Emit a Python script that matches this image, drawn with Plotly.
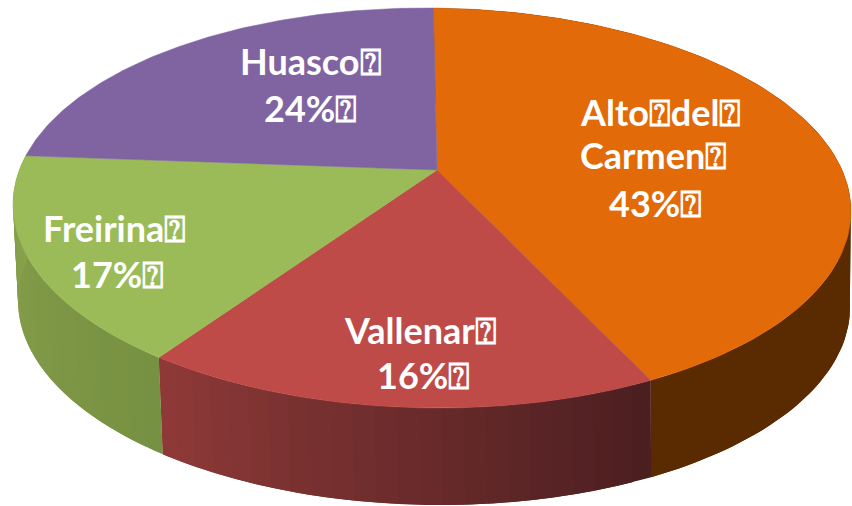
import numpy as np
import plotly.graph_objects as go

# ---- data
categories = ["Alto del Carmen", "Vallenar", "Freirina", "Huasco"]
values = [43, 16, 17, 24]
BOX = "\u2370"
label_text = ["Alto" + BOX + "del" + BOX, "Carmen" + BOX, "43%" + BOX,
              "Vallenar" + BOX, "16%" + BOX,
              "Freirina" + BOX, "17%" + BOX,
              "Huasco" + BOX, "24%" + BOX]

# ---- styling / geometry (pixel-based axes)
label_x = [578, 578, 607, 342, 375, 41, 69, 238, 262]
label_y = [112, 155, 203, 330, 375, 228, 274, 61, 108]
top_colors = ["#E26A08", "#BE4B48", "#9BBB59", "#8064A2"]
wall_from = ["#5A2A00", "#8F3A38", "#88A24D", "#5A4672"]
wall_to = ["#5A2A00", "#4A1E20", "#779142", "#5A4672"]
TOP = dict(cx=432.0, cy=208.0, a=419.0, b=200.0)
BOTTOM = dict(cx=434.0, cy=304.0, a=416.0, b=201.0)
TILT = 0.008
PERSP = 0.185
WARP = 0.030
ROT = 0.004
VERTEX = (437.0, 170.0)
W, H = 852, 506


def unit(theta):
    """Angle (clockwise from up) on the disc, moved by the perspective map."""
    th = theta + ROT + WARP * np.sin(2 * theta)
    x, y = np.sin(th), np.cos(th)
    d = 1 + PERSP * y
    return x * np.sqrt(1 - PERSP ** 2) / d, (y + PERSP) / d


def rim(theta, e):
    u, v = unit(theta)
    return e["cx"] + e["a"] * u, e["cy"] - e["b"] * v + TILT * e["a"] * u


def hex2rgb(c):
    return np.array([int(c[i:i + 2], 16) for i in (1, 3, 5)], float)


def mix(c0, c1, t):
    r = hex2rgb(c0) * (1 - t) + hex2rgb(c1) * t
    return "rgb(%d,%d,%d)" % tuple(r.round())


def poly(fig, x, y, color, lw=0.0):
    fig.add_trace(go.Scatter(x=list(x), y=list(y), mode="lines", fill="toself",
                             fillcolor=color, line=dict(color=color, width=lw),
                             hoverinfo="skip", showlegend=False))


total = sum(values)
edges = np.concatenate([[0], np.cumsum(values)]) / total * 2 * np.pi

fig = go.Figure()

# side walls: each strip overlaps the next so no seams show
for i in range(len(values)):
    n = 24
    ts = np.linspace(edges[i], edges[i + 1], n + 1)
    for k in range(n):
        if i == 3:
            continue  # Huasco's wall faces away from the viewer
        seg = np.linspace(ts[k], ts[min(k + 2, n)], 8)
        xt, yt = rim(seg, TOP)
        xb, yb = rim(seg[::-1], BOTTOM)
        # the strips run from right to left along the front of the pie
        poly(fig, [*xt, *xb, xt[0]], [*yt, *yb, yt[0]],
             mix(wall_from[i], wall_to[i], 1 - (k + 0.5) / n))

# top faces
for i in range(len(values)):
    ts = np.linspace(edges[i], edges[i + 1], 120)
    xs, ys = rim(ts, TOP)
    poly(fig, [VERTEX[0], *xs, VERTEX[0]], [VERTEX[1], *ys, VERTEX[1]], top_colors[i], 0.5)

for text, x, y in zip(label_text, label_x, label_y):
    fig.add_annotation(x=x, y=y, text="<b>" + text + "</b>", showarrow=False,
                       xanchor="left", yanchor="middle",
                       font=dict(family="Lato, 'DejaVu Sans'", size=36, color="white"))

fig.update_layout(width=W, height=H, autosize=False, margin=dict(l=0, r=0, t=0, b=0),
                  paper_bgcolor="white", plot_bgcolor="white", showlegend=False,
                  xaxis=dict(range=[0, W], visible=False, fixedrange=True),
                  yaxis=dict(range=[H, 0], visible=False, fixedrange=True))
fig.write_html("out.html", config=dict(displayModeBar=False),
               post_script="document.body.style.margin='0';document.body.style.overflow='hidden';")
